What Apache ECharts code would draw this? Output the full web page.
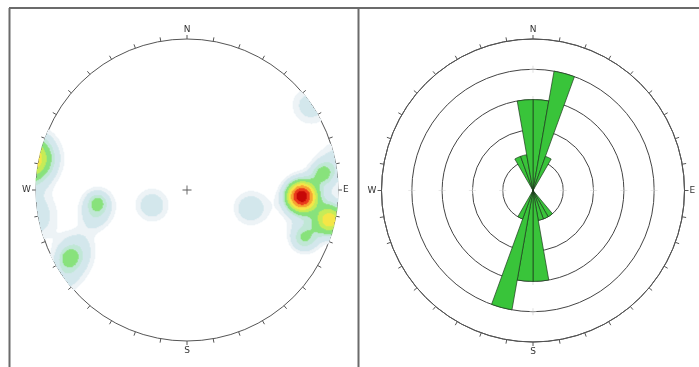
<!DOCTYPE html>
<html>
<head>
<meta charset="utf-8">
<script src="https://cdn.jsdelivr.net/npm/echarts@6/dist/echarts.min.js"></script>
<style>
  html, body { margin: 0; padding: 0; background: #fff; }
  #chart { width: 699px; height: 367px; }
</style>
</head>
<body>
<div id="chart"></div>
<script>
// pole clusters (projected x, y on the unit net), weight and spread of each
const poleX = [0.82, 0.76, 0.95, 0.90, 0.78, 0.82, 1.00, 0.42, -0.23, -0.59, -0.59, -0.61, -0.78, -0.76, -0.72, -0.82, -1.04, -1.02];
const poleY = [-0.10, -0.04, -0.20, 0.11, -0.32, 0.56, 0.20, -0.12, -0.10, -0.08, -0.10, -0.19, -0.45, -0.47, -0.37, -0.60, 0.21, -0.17];
const poleWeight = [0.5, 3.7, 1.95, 0.9, 0.95, 0.6, 0.55, 0.68, 0.66, 0.6, 0.6, 0.35, 0.6, 0.62, 0.4, 0.4, 2.5, 0.7];
const poleSpread = [0.15, 0.065, 0.07, 0.055, 0.065, 0.1, 0.1, 0.085, 0.085, 0.045, 0.09, 0.07, 0.045, 0.1, 0.08, 0.08, 0.11, 0.12];

// contour levels and their fills
const densityLevels = [0.3, 0.45, 0.8, 1.05, 1.5, 1.9, 2.4, 3.0, 3.6];
const densityColors = ['#edf3f6', '#d3e7ec', '#c0e7d6', '#8ae27f', '#c6ec5a', '#f5e64a', '#f6a436', '#e93c1f', '#c60a0a'];

// rose diagram: counts in 10 degree bins, 0-10 first
const roseBins = ['0', '10', '20', '30', '40', '50', '60', '70', '80', '90', '100', '110',
  '120', '130', '140', '150', '160', '170', '180', '190', '200', '210', '220', '230',
  '240', '250', '260', '270', '280', '290', '300', '310', '320', '330', '340', '350'];
const roseCounts = [3, 4, 1.2, 0, 0, 0, 0, 0, 0, 0, 0, 0,
  0, 0, 1, 1, 1, 3, 3, 4, 1, 0, 0, 0,
  0, 0, 0, 0, 0, 0, 0, 0, 0, 1.2, 1.2, 3];
const ringValues = [1, 2, 3, 4];
const cardinalAngles = [0, 90, 180, 270];
const cardinalNames = { 0: 'N', 90: 'E', 180: 'S', 270: 'W' };

const N = 302;
const density = [];
for (let i = 0; i < N; i++) {
  const u = -1 + (i + 0.5) * 2 / N;
  for (let j = 0; j < N; j++) {
    const v = -1 + (j + 0.5) * 2 / N;
    if (u * u + v * v > 1) continue;
    let f = 0;
    for (let k = 0; k < poleX.length; k++) {
      const dx = u - poleX[k], dy = v - poleY[k];
      f += poleWeight[k] * Math.exp(-(dx * dx + dy * dy) / (2 * poleSpread[k] * poleSpread[k]));
    }
    if (f >= densityLevels[0]) density.push([i, j, f]);
  }
}
const cats = Array.from({ length: N }, (_, i) => i);

const pieces = densityLevels.map((lv, k) => {
  const p = { gte: lv, color: densityColors[k] };
  if (k < densityLevels.length - 1) p.lt = densityLevels[k + 1];
  return p;
});

const labelStyle = { fontSize: 9, color: '#333', fontFamily: 'DejaVu Sans', margin: 5 };
const cardinalLabel = v => cardinalNames[v] || '';
const plusSymbol = 'path://M0,4.5H10V5.5H0ZM4.5,0H5.5V10H4.5Z';

const chart = echarts.init(document.getElementById('chart'), null, { renderer: 'canvas' });
chart.setOption({
  animation: false,
  backgroundColor: '#fff',
  grid: { left: 36, top: 39, width: 302, height: 302 },
  xAxis: { type: 'category', data: cats, show: false },
  yAxis: { type: 'category', data: cats, show: false },
  visualMap: {
    type: 'piecewise', show: false, seriesIndex: 0, dimension: 2, pieces: pieces,
  },
  polar: [
    { center: [187, 190], radius: 151 },
    { center: [533, 190.5], radius: 151.5 },
    { center: [533, 190.5], radius: 151.5 },
  ],
  angleAxis: [
    {
      polarIndex: 0, type: 'value', min: 0, max: 360, interval: 10, startAngle: 90, clockwise: true,
      axisLine: { lineStyle: { color: '#555', width: 1 } },
      axisTick: { length: 4, lineStyle: { color: '#555' } },
      axisLabel: Object.assign({ formatter: cardinalLabel }, labelStyle),
      splitLine: { show: false },
    },
    {
      polarIndex: 1, type: 'category', data: roseBins, startAngle: 90, clockwise: true, boundaryGap: true,
      axisLine: { show: false }, axisTick: { show: false }, axisLabel: { show: false }, splitLine: { show: false },
    },
    {
      polarIndex: 2, type: 'value', min: 0, max: 360, interval: 10, startAngle: 90, clockwise: true,
      axisLine: { lineStyle: { color: '#555', width: 1 } },
      axisTick: { length: 4, lineStyle: { color: '#555' } },
      axisLabel: Object.assign({ formatter: cardinalLabel }, labelStyle),
      splitLine: { show: false },
    },
  ],
  radiusAxis: [
    { polarIndex: 0, min: 0, max: 1, show: false },
    {
      polarIndex: 1, min: 0, max: 5, interval: 1,
      axisLine: { show: false }, axisTick: { show: false }, axisLabel: { show: false },
      splitLine: { show: true, lineStyle: { color: '#444', width: 1 } },
    },
    { polarIndex: 2, min: 0, max: 5, show: false },
  ],
  graphic: [
    { type: 'line', shape: { x1: 9, y1: 8, x2: 699, y2: 8 }, style: { stroke: '#6b6b6b', lineWidth: 2 } },
    { type: 'line', shape: { x1: 9.5, y1: 8, x2: 9.5, y2: 367 }, style: { stroke: '#6b6b6b', lineWidth: 2 } },
    { type: 'line', shape: { x1: 358.5, y1: 8, x2: 358.5, y2: 367 }, style: { stroke: '#6b6b6b', lineWidth: 2 } },
  ],
  series: [
    {
      type: 'heatmap', data: density, progressive: 0, silent: true,
    },
    {
      type: 'scatter', coordinateSystem: 'polar', polarIndex: 0, data: [[0, 0]],
      symbol: plusSymbol, symbolSize: 9,
      itemStyle: { color: '#333' }, silent: true,
    },
    {
      type: 'scatter', coordinateSystem: 'polar', polarIndex: 2, z: 1,
      data: ringValues.flatMap(r => cardinalAngles.map(a => [r, a])),
      symbol: plusSymbol, symbolSize: 7,
      itemStyle: { color: '#c8c8c8' }, silent: true,
    },
    {
      type: 'bar', coordinateSystem: 'polar', polarIndex: 1, data: roseCounts,
      barCategoryGap: '0%', z: 3,
      itemStyle: { color: '#39c43a', borderColor: '#1c3a1c', borderWidth: 0.7 },
    },
  ],
});
</script>
</body>
</html>
